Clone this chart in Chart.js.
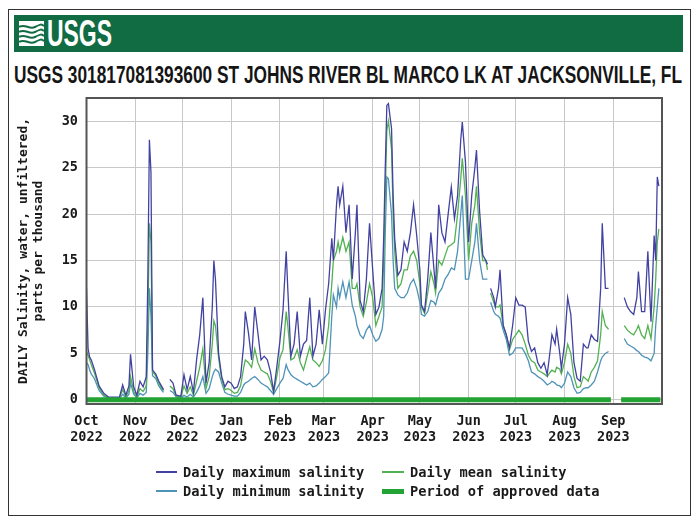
<!DOCTYPE html>
<html><head><meta charset="utf-8">
<script src="https://cdn.jsdelivr.net/npm/chart.js@4.4.0/dist/chart.umd.min.js"></script>
<style>
html,body{margin:0;padding:0;background:#fff;width:700px;height:525px;overflow:hidden;}
#frame{position:absolute;left:8px;top:9px;width:683px;height:507px;border:1.5px solid #333;box-sizing:border-box;}
#band{position:absolute;left:14px;top:15px;width:669px;height:37px;background:#116c43;}
#logoText{position:absolute;left:47px;top:15.6px;font:bold 36px "Liberation Sans Narrow","Liberation Sans",Arial,sans-serif;line-height:1;color:#fff;white-space:nowrap;transform-origin:0 0;}
#logoIcon{position:absolute;left:19px;top:21px;}
#title{position:absolute;left:14px;top:63.5px;font:bold 23px "Liberation Sans Narrow","Liberation Sans",Arial,sans-serif;line-height:1;color:#151515;white-space:nowrap;transform-origin:0 0;}
#chartWrap{position:absolute;left:0;top:0;width:700px;height:525px;}
.lg{position:absolute;height:16px;line-height:16px;font:bold 13.7px "DejaVu Sans Mono",monospace;color:#1a1a1a;white-space:nowrap;}
</style></head>
<body>
<div id="frame"></div>
<div id="band"></div>
<svg id="logoIcon" width="25" height="25" viewBox="0 0 25 25">
  <rect x="0" y="0" width="25" height="25" fill="#fff"/>
  <path d="M0 6 C6 2, 10 9, 16 6 S22 3, 25 5" stroke="#116c43" stroke-width="2" fill="none"/>
  <path d="M0 11 C6 7, 10 14, 16 11 S22 8, 25 10" stroke="#116c43" stroke-width="2" fill="none"/>
  <path d="M0 16 C6 12, 10 19, 16 16 S22 13, 25 15" stroke="#116c43" stroke-width="2" fill="none"/>
  <path d="M0 21 C6 17, 10 24, 16 21 S22 18, 25 20" stroke="#116c43" stroke-width="2" fill="none"/>
</svg>
<div id="logoText">USGS</div>
<div id="title">USGS 301817081393600 ST JOHNS RIVER BL MARCO LK AT JACKSONVILLE, FL</div>
<div id="chartWrap"><canvas id="c" width="700" height="525"></canvas></div>
<div id="legend"></div>
<script>
// ---- Data (x = days since 1 Oct 2022) ----
const days = [
  0,1,2,3,5,8,11,14,18,21,
  23,25,27,28,30,32,34,36,38,39,
  40,41,42,44,46,48,49,51,53,55,
  57,60,62,64,66,68,70,72,74,76,
  78,80,81,82,84,86,88,90,92,94,
  96,98,100,101,103,105,107,109,111,113,
  115,117,119,121,123,125,127,128,130,132,
  134,136,138,140,142,144,146,148,150,152,
  154,156,157,159,160,161,163,165,167,169,
  171,172,174,176,178,180,182,184,186,188,
  189,190,191,192,194,195,196,198,200,202,
  204,206,208,210,212,213,215,217,219,221,
  222,224,226,228,230,232,234,236,238,239,
  241,243,245,247,248,250,252,254,255,256,
  257,259,260,262,263,265,267,269,271,273,
  275,277,279,281,283,285,287,289,291,293,
  295,296,298,299,301,302,304,306,308,310,
  312,314,316,318,319,321,323,325,327,328,
  330,332,337,342,344,346,348,350,351,353,
  355,357,359,361,362,363,364
];
const maxSal = [
  12,5.5,4.6,4.3,3.3,1.5,0.7,0.3,0.3,0.3,
  1.6,0.5,1.5,4.9,1.4,0.5,2.0,1.4,2.5,13,
  28,24.5,3.2,2.8,2.0,1.4,1.1,null,2.2,1.8,
  0.5,0.4,2.7,1.1,2.5,0.8,4.3,7,11,1.8,
  4,10,15,13,5,2.5,1.4,2.0,1.8,1.2,
  1.4,2.5,6,9.5,7.2,4.3,10,7.2,4.3,4.7,
  4.3,3.0,0.9,3.5,6.3,9.7,16,12,4.7,6,
  9.5,4.7,6,6.4,11,4.7,6,9.7,6,9.7,
  12.5,17.4,15,21,23,21,23,18,21,13,
  18,21,10.7,9.5,13,19,14,9.2,10,12,
  17.4,25,31.7,31.9,29.2,22,17.4,13.4,14,17,
  16,18,21,17.7,14,10.2,9.5,13,18,14,
  12,21,18,17,20,22.9,19.5,22,28,29.9,
  25.6,17,22,25,26.9,20.3,15.6,15,14.6,null,
  12,11,10,12,14,8,7,5.6,8,11,
  10.2,10.2,10,6.3,5.2,5.6,4,3.4,4,2.7,
  5.5,7,6,7.6,5,3.4,6,11,9.2,4,
  2.3,2.0,6,5.6,5.6,7,6.5,6.3,12,19,
  12,12,null,11,10,9.5,9.2,11,13.8,9.5,
  9.5,16,8.4,17.7,15,24,23
];
const meanSal = [
  5.2,4.8,4.3,3.8,2.9,1.3,0.5,0.2,0.2,0.2,
  1.1,0.3,1.0,2.5,0.9,0.3,1.2,0.9,1.5,8,
  19,17,3.0,2.6,1.8,1.2,1.0,null,1.5,1.2,
  0.4,0.3,1.5,0.7,1.4,0.5,2.0,3.5,5.5,1.2,
  2.5,6,8.5,8,4.5,2.2,1.1,1.2,1.0,0.7,
  0.8,1.5,3.5,4.3,4.0,3.5,5.5,4.0,3.2,3.0,
  2.8,2.0,0.8,2.5,4.5,5.4,9.5,8,4.3,4.5,
  5.4,4.0,3.2,4.5,5.7,4.3,4.0,3.6,4.2,5.4,
  8,12.5,15,16,17,16,17.5,16,17,12,
  12,12.5,10,9,10.5,12.5,11,8,9,10,
  15,22,29,30,27,20,16,12,12.5,14,
  14,15.5,16,15,12.5,10,9.3,11.5,13.8,12.5,
  11.5,15,14.5,15.5,16.5,16.7,17,20,23.8,26,
  22,15,19,21,23,18,15,15,14,null,
  11.5,10.5,10,10,10.2,8,7,5.4,6.5,7,
  7.5,7,6,4.8,4.2,4.0,3.2,3.0,2.8,2.5,
  3.0,3.2,3.0,3.5,3.3,2.8,4,6,5,2.5,
  1.3,1.4,2.5,2.2,2.0,3.0,3.5,4.2,7,9.5,
  8,7.6,null,8,7.5,7.2,7,7.6,8,7,
  6.6,8,6.6,10,13,17,18.4
];
const minSal = [
  4.0,3.8,3.2,2.8,2.3,1.0,0.4,0.2,0.1,0.1,
  0.6,0.2,0.6,1.8,0.6,0.2,0.7,0.5,0.8,5,
  12,9,2.6,2.3,1.5,1.0,0.8,null,1.0,0.8,
  0.3,0.2,0.5,0.3,0.6,0.3,0.8,1.5,2.5,0.7,
  1.2,2.5,3,3.3,3.0,1.8,0.8,0.6,0.5,0.4,
  0.4,0.8,1.6,1.8,2.0,2.3,2.5,2.2,1.8,1.6,
  1.4,1.0,0.6,1.2,1.8,2.3,3.8,3.3,2.7,2.4,
  2.2,2.0,1.8,1.6,1.8,1.4,1.5,1.8,2.2,2.5,
  2.9,9,11.3,10,12,11,12.7,11,12.7,10.2,
  9,8,7,6.6,7.5,8,7,6.3,6.6,7.6,
  9,18,24,23.8,20,15,12,11.3,11,11,
  11.5,12.5,13,12,10.5,9.2,9,9.5,10.7,10.5,
  10.2,11.5,12,13,13.5,14.2,14,16,20,22,
  13,13,15,17,19,15,13,13,13,null,
  10.5,9.5,9.2,9,8.8,7.5,6.5,4.8,5,5.6,
  5.6,5.6,5,4.2,3.0,2.8,2.5,2.3,2.0,1.6,
  1.8,2.0,1.8,1.6,1.5,1.3,1.8,3.0,2.5,1.3,
  0.7,0.8,1.2,1.3,1.3,1.6,2.0,3.0,4.2,4.6,
  5,5.2,null,6.6,6.0,5.8,5.6,5.3,5.2,4.8,
  4.6,4.5,4.2,5,8,10,12
];
const approvedDays = [0, 333.5, 334, 340, 365];
const approvedVals = [0, 0, null, 0, 0];
const monthTickDays = [0,31,61,92,123,151,182,212,243,273,304,335];
const monthTickLabels = [
  ['Oct','2022'],['Nov','2022'],['Dec','2022'],['Jan','2023'],['Feb','2023'],['Mar','2023'],
  ['Apr','2023'],['May','2023'],['Jun','2023'],['Jul','2023'],['Aug','2023'],['Sep','2023']
];
const yTicks = [0,5,10,15,20,25,30];
const yTitle = ['DAILY Salinity, water, unfiltered,','parts per thousand'];
const seriesLabels = ['Daily maximum salinity','Daily mean salinity','Daily minimum salinity','Period of approved data'];

// ---- Fit header texts ----
function fitWidth(id, w){ const el=document.getElementById(id); const nw=el.getBoundingClientRect().width; el.style.transform='scaleX('+(w/nw)+')'; }
fitWidth('title', 668);
fitWidth('logoText', 65);

const pts = (xs, ys) => xs.map((x,i)=>({x:x, y:ys[i]}));
const monoFont = {family:'"DejaVu Sans Mono", monospace', weight:'bold', size:13.5, lineHeight:1.15};

const framePlugin = {
  id:'frame',
  afterDatasetsDraw(chart){
    const a = chart.chartArea, c = chart.ctx;
    c.save(); c.strokeStyle='#555'; c.lineWidth=2;
    c.strokeRect(a.left, a.top, a.right-a.left, a.bottom-a.top);
    c.restore();
  }
};

const chart = new Chart(document.getElementById('c'), {
  type:'line',
  data:{datasets:[
    {label:seriesLabels[0], data:pts(days,maxSal), borderColor:'#4242a2', borderWidth:1.3, pointRadius:0, tension:0, spanGaps:false, order:2},
    {label:seriesLabels[1], data:pts(days,meanSal), borderColor:'#52b152', borderWidth:1.3, pointRadius:0, tension:0, spanGaps:false, order:3},
    {label:seriesLabels[2], data:pts(days,minSal), borderColor:'#4f93b8', borderWidth:1.3, pointRadius:0, tension:0, spanGaps:false, order:4},
    {label:seriesLabels[3], data:pts(approvedDays,approvedVals), borderColor:'#22a334', borderWidth:5, pointRadius:0, tension:0, spanGaps:false, order:1, borderCapStyle:'butt'}
  ]},
  options:{
    responsive:false, animation:false,
    layout:{padding:{left:10, top:98, right:38, bottom:71}},
    plugins:{legend:{display:false}, tooltip:{enabled:false}},
    scales:{
      x:{type:'linear', min:0, max:366,
         afterBuildTicks:s=>{s.ticks = monthTickDays.map(v=>({value:v}));},
         afterFit:s=>{s.height=50;},
         ticks:{autoSkip:false, maxRotation:0, minRotation:0, padding:10, color:'#1a1a1a', font:monoFont,
                callback:(v,i)=>monthTickLabels[i]},
         grid:{color:'#c8c8c8', lineWidth:1, drawTicks:false},
         border:{display:false}},
      y:{type:'linear', min:-0.45, max:32.5,
         afterBuildTicks:s=>{s.ticks = yTicks.map(v=>({value:v}));},
         afterFit:s=>{s.width=76.5;},
         ticks:{padding:8.5, color:'#1a1a1a', font:monoFont},
         grid:{color:'#c8c8c8', lineWidth:1, drawTicks:false},
         border:{display:false},
         title:{display:true, text:yTitle, color:'#1a1a1a', padding:{top:6.5,bottom:0},
                font:{family:'"DejaVu Sans Mono", monospace', weight:'bold', size:13, lineHeight:1.15}}}
    }
  },
  plugins:[framePlugin]
});

// ---- HTML legend (2 columns) built from datasets ----
const legendPos = [
  {sx:156, sw:21, tx:183, y:472},
  {sx:382, sw:22, tx:410, y:472},
  {sx:156, sw:21, tx:183, y:491},
  {sx:382, sw:22, tx:410, y:491}
];
const lg = document.getElementById('legend');
chart.data.datasets.forEach((ds,i)=>{
  const p = legendPos[i];
  const s = document.createElement('div');
  s.style.cssText = 'position:absolute;left:'+p.sx+'px;top:'+(p.y-ds.borderWidth/2)+'px;width:'+p.sw+'px;height:'+Math.max(1.5,ds.borderWidth)+'px;background:'+ds.borderColor+';';
  lg.appendChild(s);
  const t = document.createElement('div');
  t.className='lg'; t.style.left=p.tx+'px'; t.style.top=(p.y-8)+'px';
  t.textContent = ds.label;
  lg.appendChild(t);
});
</script>
</body></html>
